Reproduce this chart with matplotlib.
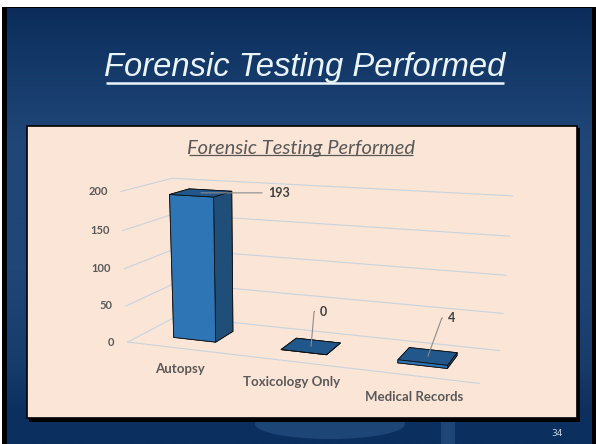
import numpy as np
import matplotlib
matplotlib.use("Agg")
import matplotlib.pyplot as plt
from matplotlib.patches import Rectangle, Ellipse
from matplotlib.colors import LinearSegmentedColormap
from mpl_toolkits.mplot3d import proj3d

categories = ["Autopsy", "Toxicology Only", "Medical Records"]
counts = [193, 0, 4]
z_ticks = [0, 50, 100, 150, 200]
slide_title = "Forensic Testing Performed"
chart_title = "Forensic Testing Performed"
page_number = "34"

W, H = 596, 444
fig = plt.figure(figsize=(W / 100, H / 100), dpi=100)
fig.patch.set_facecolor("white")

# slide backdrop, laid out in pixel units
bg = fig.add_axes([0, 0, 1, 1])
bg.axis("off")
bg.add_patch(Rectangle((2, 7), W, H, color="black", lw=0, zorder=0))
slide_cmap = LinearSegmentedColormap.from_list(
    "slide", [(0, "#0b2c5a"), (0.12, "#133868"), (0.3, "#1f4677"),
              (0.6, "#1f4677"), (0.82, "#163c6c"), (0.92, "#0c3060"),
              (1, "#0b2f5e")])
bg.imshow(np.linspace(0, 1, 256)[:, None], cmap=slide_cmap, aspect="auto",
          extent=(7, 592, H, 9), zorder=1)
bg.add_patch(Ellipse((330, 424), 150, 30, color="#1d4676", lw=0, zorder=2))
bg.add_patch(Rectangle((441, 415), 14, 30, color="#1d4676", lw=0, zorder=2))
bg.set_xlim(0, W)
bg.set_ylim(H, 0)

# chart panel with its drop shadow
bg.add_patch(Rectangle((29, 128), 551, 294, color="black", lw=0, zorder=3))
bg.add_patch(Rectangle((27, 126), 550, 292, facecolor="#fbe5d6",
                       edgecolor="black", lw=1.2, zorder=4))

t_slide = bg.text(305, 76, slide_title, ha="center", va="baseline",
                  fontsize=23.6, style="italic", color="#eaf4fb",
                  family="Liberation Sans", zorder=5)
t_chart = bg.text(301, 154, chart_title, ha="center", va="baseline",
                  fontsize=14.5, style="italic", color="#595959",
                  family="Lato", zorder=5)
bg.text(557, 433, page_number, ha="center", va="center", fontsize=6.5,
        color="#c8d6e6", zorder=5)

# 3D column chart
ax = fig.add_axes([-0.1471, -0.7043, 1.1258, 1.5113], projection="3d")
ax.set_proj_type("persp", focal_length=0.278)
ax.view_init(elev=20, azim=-68)
cx, cy, cz = 1.15, 0.119, -81.7
ax.set_xlim(cx - 2, cx + 2)
ax.set_ylim(cy - 1, cy + 1)
ax.set_zlim(cz - 300, cz + 300)
ax.set_box_aspect((4 * 0.1057, 2 * 0.099, 600 * 0.000673))
ax.set_axis_off()
ax.patch.set_visible(False)
ax.computed_zorder = False

grid_kw = dict(color="#c8d3de", lw=0.8, zorder=1)
for z in z_ticks:
    ax.plot([0, 0, 3], [0, 1, 1], [z, z, z], **grid_kw)
ax.plot([0, 3], [0, 0], [0, 0], **grid_kw)

n = len(categories)
xpos = np.arange(n) + 0.3
ypos = np.full(n, 0.3)
# face order used by bar3d: -z, +z, -y, +y, -x, +x
faces = ["#21578a", "#21578a", "#2e75b6", "#1f4e79", "#2e75b6", "#1f4e79"]
ax.bar3d(xpos, ypos, np.zeros(n), 0.4, 0.4, counts, color=faces * n,
         shade=False, edgecolor="#111111", linewidth=0.6, zorder=2)

M = ax.get_proj()


def to2d(x, y, z):
    xs, ys, _ = proj3d.proj_transform(x, y, z, M)
    return xs, ys


lbl_kw = dict(textcoords="offset points", color="#595959", family="Lato",
              fontweight="bold")
for z in z_ticks:
    ax.annotate(str(z), to2d(0, 0, z), xytext=(-9.5, 0), ha="right",
                va="center", fontsize=8, **lbl_kw)
for i, name in enumerate(categories):
    ax.annotate(name, to2d(i + 0.5, 0, 0), xytext=(0, -15), ha="center",
                va="center", fontsize=9.5, **lbl_kw)

leader = dict(arrowstyle="-", color="#8c8c8c", lw=0.8, shrinkA=2, shrinkB=0,
              relpos=(0, 0.5))
label_offsets = [(48, 0), (6.5, 25), (14.5, 27.5)]
leader_angles = [None, 85, 70]
for i, v in enumerate(counts):
    props = dict(leader)
    if leader_angles[i] is not None:
        props["connectionstyle"] = "angle,angleA=0,angleB=%d,rad=0" % leader_angles[i]
    ax.annotate(str(v), to2d(i + 0.5, 0.5, v), xytext=label_offsets[i],
                ha="left", va="center", fontsize=9, arrowprops=props,
                **dict(lbl_kw, color="#404040"))

# underline both titles
fig.canvas.draw()
r = fig.canvas.get_renderer()
for t, lw, col, gap in [(t_slide, 1.8, "#eaf4fb", 3), (t_chart, 0.9, "#595959", 1)]:
    bb = t.get_window_extent(r)
    y = H - bb.y0 + gap - 3
    bg.plot([bb.x0 + 2, bb.x1 - 2], [y, y], color=col, lw=lw, zorder=5,
            solid_capstyle="butt")

fig.savefig("out.png", dpi=100)
